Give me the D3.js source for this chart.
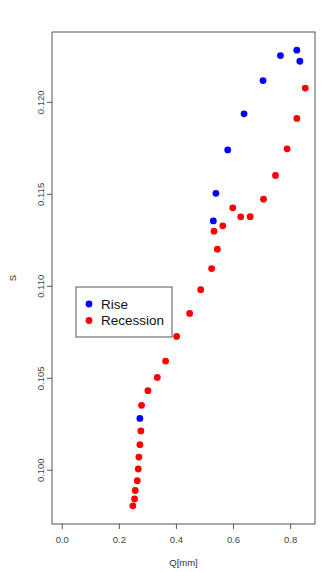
<!DOCTYPE html>
<html>
<head>
<meta charset="utf-8">
<script src="https://cdn.jsdelivr.net/npm/d3@7"></script>
<style>
  html, body { margin: 0; padding: 0; background: #fff; }
  svg { display: block; font-family: "Liberation Sans", Arial, sans-serif; }
</style>
</head>
<body>
<svg id="chart" width="326" height="572"></svg>
<script>
// Storage S against discharge Q, split into rising and receding limbs
const riseQ = [0.2737, 0.531, 0.540, 0.5814, 0.6386, 0.705, 0.766, 0.8235, 0.834];
const riseS = [0.10279, 0.11353, 0.11503, 0.11739, 0.11935, 0.12116, 0.12252, 0.12281, 0.12221];

const recessionQ = [0.853, 0.8235, 0.7895, 0.7488, 0.7067, 0.660, 0.627, 0.599, 0.564, 0.5333,
  0.545, 0.525, 0.4867, 0.448, 0.4025, 0.3639, 0.3347, 0.3018, 0.2796, 0.2772,
  0.2737, 0.2702, 0.2681, 0.2646, 0.2575, 0.2551, 0.2491];
const recessionS = [0.12075, 0.11910, 0.11745, 0.11600, 0.11471, 0.11376, 0.11375, 0.11424, 0.11326, 0.11297,
  0.11199, 0.11094, 0.10979, 0.10850, 0.10725, 0.10591, 0.10502, 0.10430, 0.10350, 0.10211,
  0.10136, 0.10069, 0.10004, 0.09940, 0.09887, 0.09841, 0.09804];

const xTicks = [0.0, 0.2, 0.4, 0.6, 0.8];
const yTicks = [0.100, 0.105, 0.110, 0.115, 0.120];
const seriesNames = ["Rise", "Recession"];
const seriesColors = ["#0000ff", "#ff0000"];

const svg = d3.select("#chart");
const plot = { left: 52, top: 32, right: 315, bottom: 524 };

// axis limits: data range widened by 4% on each side
function padded(lo, hi) {
  const d = (hi - lo) * 0.04;
  return [lo - d, hi + d];
}
const allQ = riseQ.concat(recessionQ);
const allS = riseS.concat(recessionS);
const x = d3.scaleLinear()
  .domain(padded(0, d3.max(allQ)))
  .range([plot.left, plot.right]);
const y = d3.scaleLinear()
  .domain(padded(d3.min(allS), d3.max(allS)))
  .range([plot.bottom, plot.top]);

const axisColor = "#555";
const labelColor = "#444";

// frame
svg.append("rect")
  .attr("x", plot.left).attr("y", plot.top)
  .attr("width", plot.right - plot.left).attr("height", plot.bottom - plot.top)
  .attr("fill", "none").attr("stroke", axisColor).attr("stroke-width", 1);

// x axis
const xAxis = d3.axisBottom(x).tickValues(xTicks).tickFormat(d3.format(".1f")).tickSize(5).tickPadding(7);
const gx = svg.append("g").attr("transform", `translate(0,${plot.bottom})`).call(xAxis);
gx.select(".domain").remove();
gx.selectAll("line").attr("stroke", axisColor);
gx.selectAll("text").attr("fill", labelColor).attr("font-size", 9.5)
  .attr("font-family", "Liberation Sans, Arial, sans-serif");

// y axis with rotated labels
const yAxis = d3.axisLeft(y).tickValues(yTicks).tickFormat(d3.format(".3f")).tickSize(5);
const gy = svg.append("g").attr("transform", `translate(${plot.left},0)`).call(yAxis);
gy.select(".domain").remove();
gy.selectAll("line").attr("stroke", axisColor);
gy.selectAll("text")
  .attr("fill", labelColor).attr("font-size", 9.5)
  .attr("font-family", "Liberation Sans, Arial, sans-serif")
  .attr("x", null).attr("dy", null)
  .attr("text-anchor", "middle")
  .attr("transform", "translate(-12,0) rotate(-90)")
  .attr("y", 0)
  .attr("dominant-baseline", "central");

// axis titles
svg.append("text")
  .attr("x", (plot.left + plot.right) / 2).attr("y", 566)
  .attr("text-anchor", "middle").attr("font-size", 9.5).attr("fill", "#333")
  .text("Q[mm]");
svg.append("text")
  .attr("transform", `translate(16,${(plot.top + plot.bottom) / 2}) rotate(-90)`)
  .attr("text-anchor", "middle").attr("font-size", 9.5).attr("fill", "#333")
  .text("S");

// points
const r = 3.4;
svg.append("g").selectAll("circle")
  .data(riseQ.map((q, i) => [q, riseS[i]]))
  .join("circle")
  .attr("cx", d => x(d[0])).attr("cy", d => y(d[1])).attr("r", r)
  .attr("fill", seriesColors[0]);
svg.append("g").selectAll("circle")
  .data(recessionQ.map((q, i) => [q, recessionS[i]]))
  .join("circle")
  .attr("cx", d => x(d[0])).attr("cy", d => y(d[1])).attr("r", r)
  .attr("fill", seriesColors[1]);

// legend
const legend = svg.append("g").attr("transform", "translate(76,287)");
legend.append("rect")
  .attr("width", 96).attr("height", 50)
  .attr("fill", "#fff").attr("stroke", axisColor).attr("stroke-width", 1);
seriesNames.forEach((name, i) => {
  const row = legend.append("g").attr("transform", `translate(0,${17 + i * 16.5})`);
  row.append("circle").attr("cx", 13).attr("cy", 0).attr("r", r).attr("fill", seriesColors[i]);
  row.append("text").attr("x", 25).attr("y", 0).attr("dy", "0.35em")
    .attr("font-size", 13.5).attr("fill", "#111").text(name);
});
</script>
</body>
</html>
